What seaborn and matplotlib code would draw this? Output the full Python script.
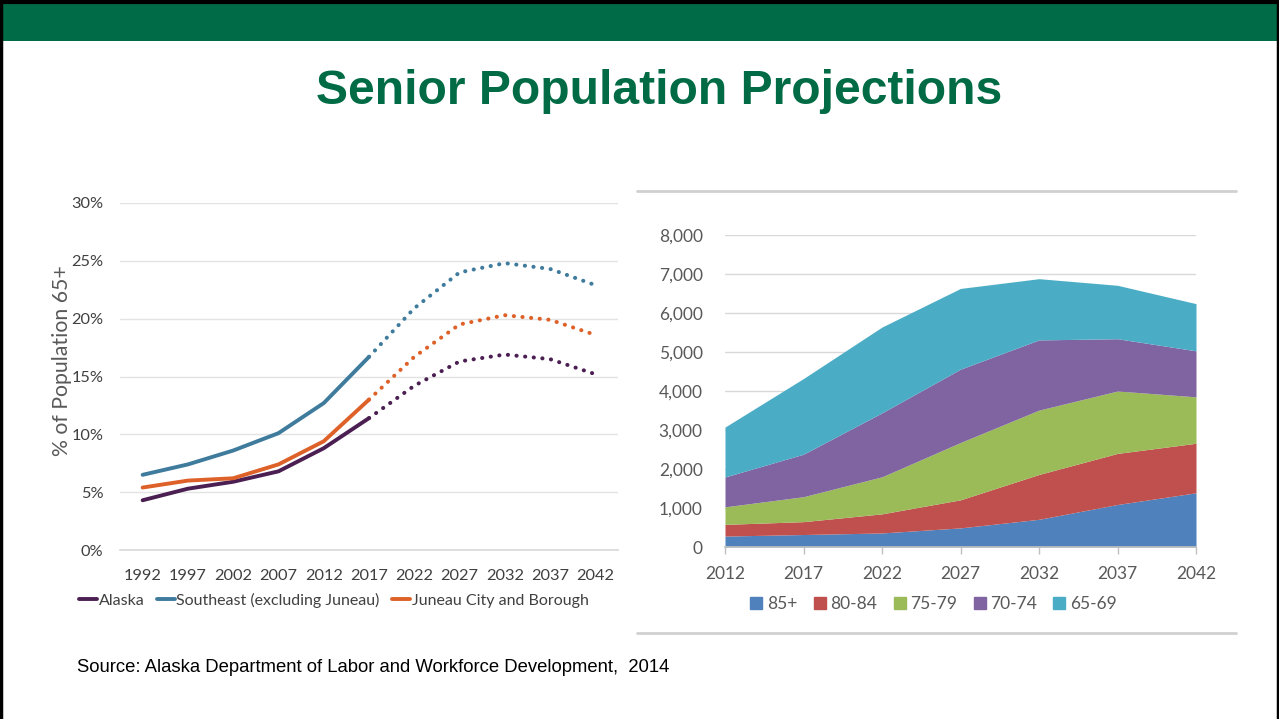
import numpy as np
import pandas as pd
import matplotlib
matplotlib.use("Agg")
import matplotlib.pyplot as plt
import seaborn as sns
from matplotlib.lines import Line2D
from matplotlib.patches import Rectangle

# ---------------- data ----------------
years_left = [1992, 1997, 2002, 2007, 2012, 2017, 2022, 2027, 2032, 2037, 2042]
alaska = [4.3, 5.3, 5.9, 6.8, 8.8, 11.4, 14.2, 16.3, 16.9, 16.5, 15.2]
southeast = [6.5, 7.4, 8.6, 10.1, 12.7, 16.7, 20.9, 24.0, 24.8, 24.3, 22.9]
juneau = [5.4, 6.0, 6.2, 7.4, 9.4, 13.0, 16.7, 19.5, 20.3, 19.9, 18.6]
series_names = ["Alaska", "Southeast (excluding Juneau)", "Juneau City and Borough"]
last_actual_year = 2017

years_right = [2012, 2017, 2022, 2027, 2032, 2037, 2042]
age_85 = [280, 320, 360, 490, 710, 1090, 1390]
age_80_84 = [300, 330, 490, 720, 1150, 1310, 1270]
age_75_79 = [450, 640, 950, 1470, 1650, 1600, 1190]
age_70_74 = [765, 1090, 1640, 1880, 1800, 1340, 1180]
age_65_69 = [1280, 1940, 2200, 2070, 1570, 1370, 1210]
age_groups = ["85+", "80-84", "75-79", "70-74", "65-69"]

title = "Senior Population Projections"
source = "Source: Alaska Department of Labor and Workforce Development,  2014"

# ---------------- style ----------------
sns.set_theme(style="white")
plt.rcParams["font.family"] = ["Lato", "DejaVu Sans"]

W, H = 1279, 719
fig = plt.figure(figsize=(W / 100, H / 100), dpi=100)
fig.patch.set_facecolor("white")

def fx(x):
    return x / W

def fy(y):
    return 1 - y / H

# header band and border (left, top, right)
fig.add_artist(Rectangle((fx(2), fy(41)), fx(1275), 37 / H, transform=fig.transFigure,
                         facecolor="#006B47", edgecolor="none"))
fig.add_artist(Line2D([fx(1), fx(1)], [0, 1], transform=fig.transFigure, color="black", lw=2.5))
fig.add_artist(Line2D([fx(1277.5), fx(1277.5)], [0, 1], transform=fig.transFigure, color="black", lw=2.5))
fig.add_artist(Line2D([0, 1], [fy(2), fy(2)], transform=fig.transFigure, color="black", lw=3))

fig.text(fx(659), fy(91), title, ha="center", va="center", fontsize=34.6, fontweight="bold",
         color="#006B45", family=["Liberation Sans", "DejaVu Sans"])
fig.text(fx(77), fy(668), source, ha="left", va="center", fontsize=13.3,
         color="black", family=["Liberation Sans", "DejaVu Sans"])

# ---------------- left chart ----------------
colors_left = {"Alaska": "#4B1F52", "Southeast (excluding Juneau)": "#3F7B9C",
               "Juneau City and Borough": "#DD6128"}
rows = []
for name, vals in zip(series_names, [alaska, southeast, juneau]):
    for i, (yr, v) in enumerate(zip(years_left, vals)):
        rows.append({"series": name, "pos": i, "year": yr, "value": v})
df_left = pd.DataFrame(rows)
split = years_left.index(last_actual_year)

axL = fig.add_axes([fx(120), fy(550), fx(498), (550 - 203) / H])
hist = df_left[df_left["pos"] <= split]
proj = df_left[df_left["pos"] >= split]
sns.lineplot(data=hist, x="pos", y="value", hue="series", palette=colors_left,
             hue_order=series_names, ax=axL, lw=2.8, legend=False)
for name in series_names:
    sub = proj[proj["series"] == name]
    sns.lineplot(data=sub, x="pos", y="value", color=colors_left[name], ax=axL, lw=2.9,
                 linestyle=(0, (0.05, 2.1)), dash_capstyle="round", legend=False)

axL.set_xlim(-0.5, len(years_left) - 0.5)
axL.set_ylim(0, 30)
axL.set_yticks(range(0, 31, 5))
axL.set_yticklabels([f"{v}%" for v in range(0, 31, 5)])
axL.set_xticks(range(len(years_left)))
axL.set_xticklabels([str(y) for y in years_left])
axL.set_xticks(np.arange(-0.5, len(years_left), 1), minor=True)
axL.tick_params(axis="x", which="major", length=0, pad=14, labelsize=11.8, labelcolor="#404040")
axL.tick_params(axis="x", which="minor", length=4, direction="in", color="#d9d9d9", width=1)
axL.tick_params(axis="y", length=0, pad=12, labelsize=11.8, labelcolor="#404040")
axL.grid(axis="y", color="#e3e3e3", lw=1)
axL.set_axisbelow(True)
for s in ["top", "right", "left"]:
    axL.spines[s].set_visible(False)
axL.spines["bottom"].set_color("#d9d9d9")
axL.set_xlabel("")
axL.set_ylabel("")
fig.text(fx(62), fy(361), "% of Population 65+", rotation=90, ha="center", va="center",
         fontsize=15.3, color="#595959")

handlesL = [Line2D([], [], color=colors_left[n], lw=2.8) for n in series_names]
fig.legend(handlesL, series_names, loc="center", bbox_to_anchor=(fx(334), fy(600)),
           ncol=3, frameon=False, fontsize=11.5, handlelength=1.1, handletextpad=0.1,
           columnspacing=0.8, labelcolor="#404040")

# ---------------- right chart ----------------
colors_right = ["#4F81BD", "#C0504D", "#9BBB59", "#8064A2", "#4BACC6"]
df_right = pd.DataFrame({"year": years_right, "85+": age_85, "80-84": age_80_84,
                         "75-79": age_75_79, "70-74": age_70_74, "65-69": age_65_69})

axR = fig.add_axes([fx(725), fy(547), fx(471), (547 - 235) / H])
axR.stackplot(df_right["year"], *[df_right[g] for g in age_groups], colors=colors_right,
              labels=age_groups, linewidth=0)
axR.set_xlim(2012, 2042)
axR.set_ylim(0, 8000)
axR.set_yticks(range(0, 8001, 1000))
axR.set_yticklabels([f"{v:,}" for v in range(0, 8001, 1000)])
axR.set_xticks(years_right)
axR.set_xticklabels([str(y) for y in years_right])
axR.tick_params(axis="x", length=5, width=1, color="#bfbfbf", direction="out", pad=9,
                labelsize=12.5, labelcolor="#595959", bottom=True)
axR.tick_params(axis="y", length=0, pad=16, labelsize=12.5, labelcolor="#595959")
axR.grid(axis="y", color="#d9d9d9", lw=1)
axR.set_axisbelow(True)
for s in ["top", "right", "left"]:
    axR.spines[s].set_visible(False)
axR.spines["bottom"].set_color("#bfbfbf")

handlesR = [Line2D([], [], marker="s", color=c, linestyle="none", markersize=9)
            for c in colors_right]
fig.legend(handlesR, age_groups, loc="center", bbox_to_anchor=(fx(933), fy(604)),
           ncol=5, frameon=False, fontsize=12.5, handlelength=0.8, handletextpad=0.2,
           columnspacing=0.9, labelcolor="#595959")

# frame lines of right panel
for yy in (191, 633):
    fig.add_artist(Line2D([fx(637), fx(1236)], [fy(yy), fy(yy)], transform=fig.transFigure,
                          color="#d0d0d0", lw=2))

fig.savefig("out.png", dpi=100)
